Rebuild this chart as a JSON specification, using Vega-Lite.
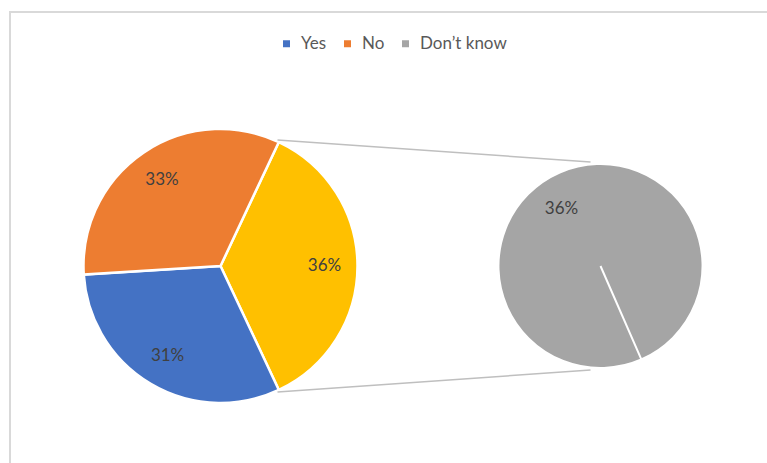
{
  "$schema": "https://vega.github.io/schema/vega-lite/v6.json",
  "width": 767,
  "height": 463,
  "autosize": {"type": "fit", "contains": "padding"},
  "padding": {"left": 10, "top": 12, "right": -4, "bottom": -4},
  "background": "white",
  "config": {"view": {"stroke": "#d9d9d9", "strokeWidth": 2}, "font": "Lato"},
  "datasets": {
    "main": [
      {"pie": "Main", "category": "Other", "share": 0.36, "order": 1},
      {"pie": "Main", "category": "Yes", "share": 0.31, "order": 2},
      {"pie": "Main", "category": "No", "share": 0.33, "order": 3}
    ],
    "second": [
      {"pie": "Other", "category": "Don’t know", "share": 0.36, "order": 1},
      {"pie": "Other", "category": "Don’t know", "share": 0, "order": 2}
    ],
    "connectors": [
      {"from": "Main", "to": "Other", "edge": "top"},
      {"from": "Main", "to": "Other", "edge": "bottom"}
    ]
  },
  "layer": [
    {
      "data": {"name": "main"},
      "encoding": {
        "theta": {"field": "share", "type": "quantitative", "stack": true, "scale": {"domain": [0, 1], "range": [0.4398, 6.7230]}},
        "order": {"field": "order", "type": "quantitative"},
        "x": {"field": "pie", "type": "nominal", "scale": {"type": "point", "domain": ["Main", "Other"], "range": [210.5, 590.5], "padding": 0}, "axis": null},
        "y": {"datum": 0, "type": "quantitative", "scale": {"domain": [-197, 254], "range": [451, 0], "zero": false, "nice": false}, "axis": null}
      },
      "layer": [
        {
          "mark": {"type": "arc", "outerRadius": 137, "stroke": "white", "strokeWidth": 2.5},
          "encoding": {
            "color": {
              "field": "category", "type": "nominal",
              "scale": {"domain": ["Yes", "No", "Don’t know", "Other"], "range": ["#4472C4", "#ED7D31", "#A5A5A5", "#FFC000"]},
              "legend": {
                "values": ["Yes", "No", "Don’t know"],
                "orient": "none", "legendX": 268, "legendY": 23,
                "direction": "horizontal", "columns": 3, "title": null,
                "symbolType": "square", "symbolSize": 49, "symbolStrokeWidth": 0,
                "labelFontSize": 17, "labelColor": "#595959", "labelFont": "Lato",
                "columnPadding": 12, "labelOffset": 6
              }
            }
          }
        },
        {
          "mark": {"type": "text", "radius": 104, "fontSize": 17, "fill": "#404040", "font": "Lato"},
          "encoding": {"text": {"field": "share", "type": "quantitative", "format": ".0%"}}
        }
      ]
    },
    {
      "data": {"name": "second"},
      "encoding": {
        "theta": {"field": "share", "type": "quantitative", "stack": true, "scale": {"domain": [0, 0.36], "range": [2.7297, 9.0129]}},
        "order": {"field": "order", "type": "quantitative"},
        "x": {"field": "pie", "type": "nominal"},
        "y": {"datum": 0, "type": "quantitative"}
      },
      "layer": [
        {
          "mark": {"type": "arc", "outerRadius": 102, "stroke": "white", "strokeWidth": 2},
          "encoding": {"color": {"field": "category", "type": "nominal"}}
        },
        {
          "transform": [{"filter": "datum.share > 0"}],
          "mark": {"type": "text", "radius": 69, "thetaOffset": -0.1885, "fontSize": 17, "fill": "#404040", "font": "Lato"},
          "encoding": {"text": {"field": "share", "type": "quantitative", "format": ".0%"}}
        }
      ]
    },
    {
      "data": {"name": "connectors"},
      "transform": [{"filter": "datum.edge == 'top'"}],
      "mark": {"type": "rule", "color": "#bfbfbf", "strokeWidth": 1.5, "xOffset": 57, "x2Offset": -10},
      "encoding": {
        "x": {"field": "from", "type": "nominal"},
        "x2": {"field": "to"},
        "y": {"datum": 126, "type": "quantitative"},
        "y2": {"datum": 104}
      }
    },
    {
      "data": {"name": "connectors"},
      "transform": [{"filter": "datum.edge == 'bottom'"}],
      "mark": {"type": "rule", "color": "#bfbfbf", "strokeWidth": 1.5, "xOffset": 57, "x2Offset": -10},
      "encoding": {
        "x": {"field": "from", "type": "nominal"},
        "x2": {"field": "to"},
        "y": {"datum": -126, "type": "quantitative"},
        "y2": {"datum": -104}
      }
    }
  ],
  "resolve": {"scale": {"theta": "independent"}}
}
